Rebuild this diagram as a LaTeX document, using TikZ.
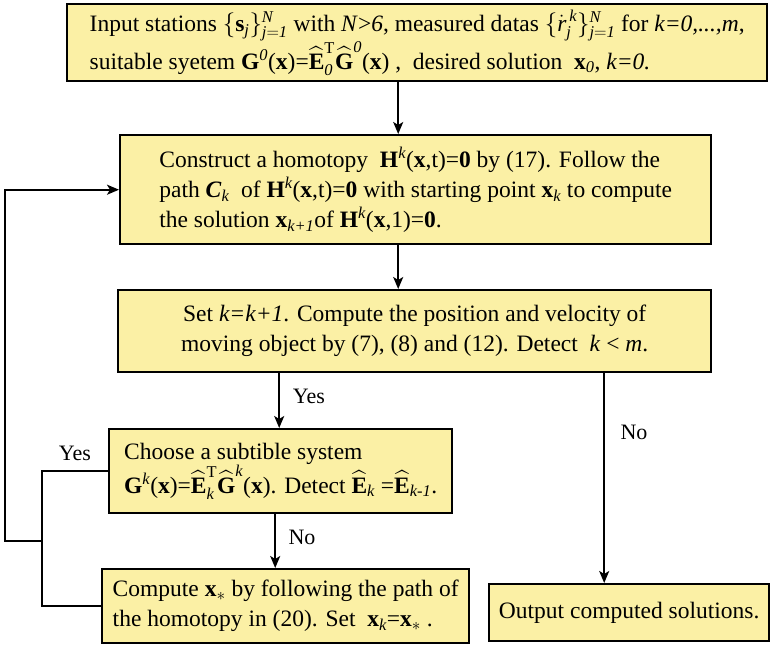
\documentclass[tikz,border=0pt]{standalone}
\usepackage{amsmath}
\usepackage{fontspec}
\setmainfont{Liberation Serif}
\usetikzlibrary{arrows.meta}

\definecolor{boxyellow}{RGB}{251,240,165}

\newcommand{\bv}[1]{\textbf{#1}}
\newcommand{\iv}[1]{\textit{#1}}
\newcommand{\hv}[1]{\boldsymbol{\widehat{\text{\textbf{#1}}}}}

\tikzset{
  procbox/.style={draw, line width=2.4pt, fill=boxyellow, align=left,
    inner sep=0pt, font=\fontsize{23.5}{30}\selectfont},
  flow/.style={line width=1.8pt, -{Stealth[length=12pt,width=10pt,inset=3pt]}},
  link/.style={line width=1.8pt},
  lbl/.style={font=\fontsize{22}{25}\selectfont}
}

\begin{document}
\begin{tikzpicture}[x=1pt,y=-1pt]
\useasboundingbox (0,0) rectangle (771,646);

% boxes
\node[procbox, minimum width=700, minimum height=77, anchor=north west,
  font=\fontsize{23.5}{32}\selectfont] (input) at (66,3)
  {Input stations $\{\bv{s}_{\iv{j}}\}^{\iv{N}}_{\iv{j}=\iv{1}}$ with \iv{N}>\iv{6}, measured datas $\{\dot{\iv{r}}^{\,\iv{k}}_{\iv{j}}\}^{\iv{N}}_{\iv{j}=\iv{1}}$ for \iv{k=0,...,m},\\
   suitable syetem $\bv{G}^{\iv{0}}$(\bv{x})=$\hv{E}^{\text{T}}_{\iv{0}}\hv{G}^{\iv{0}}$(\bv{x}) ,\ \ desired solution\ \ \bv{x}$_{\iv{0}}$, \iv{k=0.}};

\node[procbox, minimum width=591, minimum height=109, anchor=north west] (hom) at (119,134)
  {Construct a homotopy\ \ \bv{H}$^{\iv{k}}$(\bv{x},t)=\bv{0} by (17). Follow the\\
   path $\textbf{\textit{C}}_{\iv{k}}$\ \ of \bv{H}$^{\iv{k}}$(\bv{x},t)=\bv{0} with starting point \bv{x}$_{\iv{k}}$ to compute\\
   the solution \bv{x}$_{\iv{k+1}}$of \bv{H}$^{\iv{k}}$(\bv{x},1)=\bv{0}.};

\node[procbox, align=center, minimum width=593, minimum height=82, anchor=north west] (set) at (117,289)
  {Set \iv{k=k+1}. Compute the position and velocity of\\
   moving object by (7), (8) and (12). Detect\ \ \iv{k} < \iv{m}.};

\node[procbox, minimum width=343, minimum height=84, anchor=north west] (choose) at (108,428)
  {Choose a subtible system\\
   \bv{G}$^{\iv{k}}$(\bv{x})=$\hv{E}^{\text{T}}_{\iv{k}}\hv{G}^{\iv{k}}$(\bv{x}). Detect $\hv{E}_{\iv{k}}$ =$\hv{E}_{\iv{k-1}}$.};

\node[procbox, minimum width=367, minimum height=74, anchor=north west] (compute) at (101,568)
  {Compute \bv{x}$_*$ by following the path of\\
   the homotopy in (20). Set\ \ \bv{x}$_{\iv{k}}$=\bv{x}$_*$ .};

\node[procbox, align=center, minimum width=280, minimum height=57, anchor=north west] (output) at (488,583)
  {Output computed solutions.};

% connectors
\draw[flow] ([xshift=-19]input.south) -- ([xshift=-17.5]hom.north);
\draw[flow] ([xshift=-17.5]hom.south) -- ([xshift=-16.5]set.north);

\coordinate (yesA) at ([xshift=-135.5]set.south);
\draw[flow] (yesA) -- (yesA |- choose.north);
\node[lbl] (yes1) at (309,396) {Yes};

\coordinate (noA) at ([xshift=189.5]set.south);
\draw[flow] (noA) -- (noA |- output.north);
\node[lbl] (no1) at (634,432) {No};

\coordinate (noB) at ([xshift=-5.5]choose.south);
\draw[flow] (noB) -- (noB |- compute.north);
\node[lbl] (no2) at (302,537) {No};

% feedback loop
\coordinate (jn) at (42,541);
\coordinate (lp) at (5,541);
\draw[link] (choose.west) -| (jn) |- (compute.west);
\draw[flow] (jn) -- (lp) |- (hom.west);
\node[lbl] (yes2) at (75,453) {Yes};

\end{tikzpicture}
\end{document}
